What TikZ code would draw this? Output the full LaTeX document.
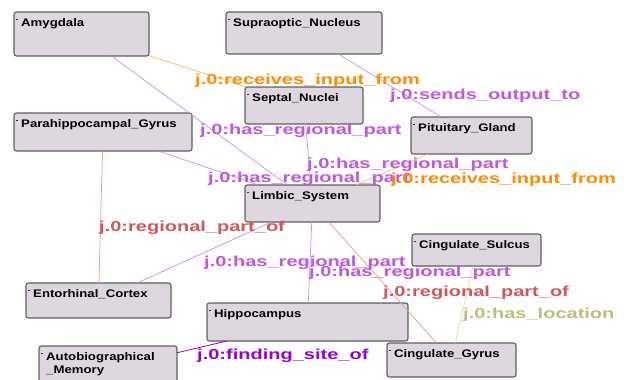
\documentclass[tikz,border=0pt]{standalone}
\usepackage{fontspec}
\setmainfont{Liberation Sans}
\usetikzlibrary{calc}
\definecolor{boxfill}{RGB}{223,215,224}
\definecolor{boxborder}{RGB}{95,95,95}
\definecolor{markcol}{RGB}{110,0,110}
\definecolor{cpurple}{RGB}{190,88,222}
\definecolor{lpurple}{RGB}{205,140,235}
\definecolor{corange}{RGB}{255,140,0}
\definecolor{lorange}{RGB}{255,185,90}
\definecolor{cred}{RGB}{208,88,88}
\definecolor{lred}{RGB}{232,150,150}
\definecolor{colive}{RGB}{190,190,120}
\definecolor{lolive}{RGB}{215,215,165}
\definecolor{cdpurple}{RGB}{153,0,204}
\newcommand{\ntxt}[1]{\scalebox{1.2}[1]{#1}}
\newcommand{\ltxt}[1]{\scalebox{1.38}[1]{#1}}
\tikzset{
  box/.style={draw=boxborder, fill=boxfill, rounded corners=2.5pt, line width=1.1pt, anchor=north west, inner sep=0pt, outer sep=0pt},
  ntext/.style={anchor=base west, inner sep=0pt, font=\fontsize{11}{13}\selectfont\bfseries, text=black},
  lbl/.style={anchor=base west, inner sep=0pt, font=\fontsize{14.5}{15}\selectfont\bfseries},
  epurple/.style={draw=lpurple, line width=0.7pt},
  eorange/.style={draw=lorange, line width=0.7pt},
  ered/.style={draw=lred, line width=0.7pt},
  eolive/.style={draw=lolive, line width=0.7pt},
  edpurple/.style={draw=cdpurple, line width=0.8pt},
}
\newcommand{\bnode}[6]{%
  \node[box, minimum width=#4pt, minimum height=#5pt] (#1) at (#2,#3) {};
  \fill[markcol] ($(#1.north west)+(2.2,6.5)$) rectangle +(1.8,1.4);
  \node[ntext] (#1-t) at ($(#1.north west)+(7,14.8)$) {#6};
}
\begin{document}
\begin{tikzpicture}[x=1pt,y=-1pt]
\useasboundingbox (0,0) rectangle (624,380);
\clip (0,0) rectangle (624,380);
\fill[white] (0,0) rectangle (624,380);
% boxes
\bnode{amy}{14}{12}{135}{44}{\ntxt{Amygdala}}
\bnode{sup}{226}{12}{156}{42}{\ntxt{Supraoptic\_Nucleus}}
\bnode{sep}{245}{87}{118}{37}{\ntxt{Septal\_Nuclei}}
\bnode{pit}{411}{117}{121}{37}{\ntxt{Pituitary\_Gland}}
\bnode{para}{14}{113}{178}{38}{\ntxt{Parahippocampal\_Gyrus}}
\bnode{lim}{245}{185}{135}{37}{\ntxt{Limbic\_System}}
\bnode{ent}{26}{283}{145}{35}{\ntxt{Entorhinal\_Cortex}}
\bnode{hip}{207}{303}{201}{38}{\ntxt{Hippocampus}}
\bnode{auto}{39}{346}{138}{46}{\ntxt{Autobiographical}}
\node[ntext] (auto-t2) at ($(auto.north west)+(7,27.5)$) {\ntxt{\_Memory}};
\bnode{csu}{412}{234}{129}{32}{\ntxt{Cingulate\_Sulcus}}
\bnode{cgy}{387}{343}{129}{34}{\ntxt{Cingulate\_Gyrus}}
% connectors
\draw[epurple] (amy) -- (lim);
\draw[eorange] (amy) -- (sep);
\draw[epurple] (sup) -- (pit);
\draw[epurple] (sep) -- (lim);
\draw[epurple] (para) -- (lim);
\draw[eorange] (pit) -- (lim);
\draw[ered] (para) -- (ent);
\draw[epurple] (lim) -- (ent);
\draw[epurple] (lim) -- (hip);
\draw[ered] (lim) -- (cgy);
\draw[eolive] (csu) -- (cgy);
\draw[edpurple] (hip) -- (auto);
% labels
\node[lbl, text=corange] (l1) at (195,84) {\ltxt{j.0:receives\_input\_from}};
\node[lbl, text=cpurple] (l2) at (200,134) {\ltxt{j.0:has\_regional\_part}};
\node[lbl, text=cpurple] (l3) at (390,99.5) {\ltxt{j.0:sends\_output\_to}};
\node[lbl, text=cpurple] (l4) at (307,168) {\ltxt{j.0:has\_regional\_part}};
\node[lbl, text=cpurple] (l5) at (208,182.5) {\ltxt{j.0:has\_regional\_part}};
\node[lbl, text=corange] (l6) at (391,183.5) {\ltxt{j.0:receives\_input\_from}};
\node[lbl, text=cred] (l7) at (99,231) {\ltxt{j.0:regional\_part\_of}};
\node[lbl, text=cpurple] (l8) at (204,266.5) {\ltxt{j.0:has\_regional\_part}};
\node[lbl, text=cpurple] (l9) at (309,276) {\ltxt{j.0:has\_regional\_part}};
\node[lbl, text=cred] (l10) at (383,296) {\ltxt{j.0:regional\_part\_of}};
\node[lbl, text=colive] (l11) at (463,318) {\ltxt{j.0:has\_location}};
\node[lbl, text=cdpurple] (l12) at (197,359) {\ltxt{j.0:finding\_site\_of}};
\end{tikzpicture}
\end{document}
